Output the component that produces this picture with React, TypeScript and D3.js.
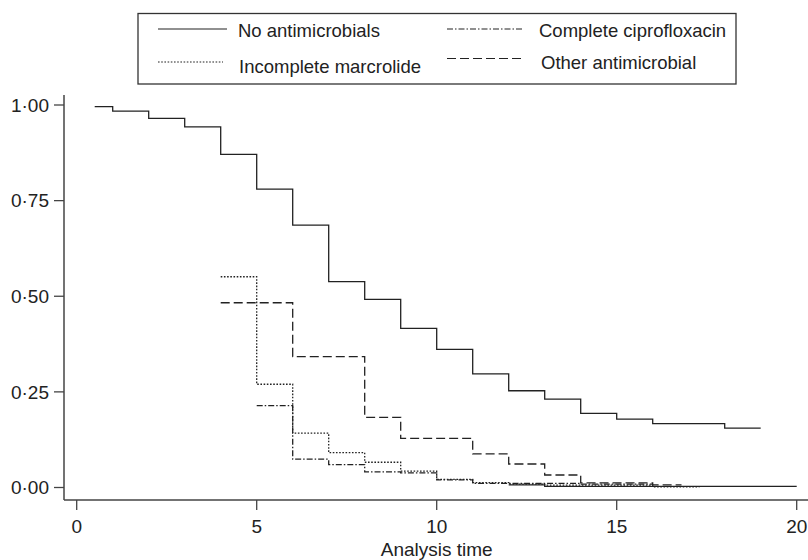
import React from 'react';
import * as d3 from 'd3';

// survival steps (time, surviving fraction)
const noAbxTime = [0.5, 1, 2, 3, 4, 5, 6, 7, 8, 9, 10, 11, 12, 13, 14, 15, 16, 18];
const noAbxSurv = [0.996, 0.984, 0.965, 0.943, 0.871, 0.78, 0.686, 0.538, 0.492, 0.416, 0.361, 0.297, 0.253, 0.231, 0.194, 0.179, 0.167, 0.155];
const noAbxEnd = 19;

const macroTime = [4, 5, 6, 7, 8, 9, 10, 11, 12, 13, 16];
const macroSurv = [0.551, 0.27, 0.142, 0.091, 0.066, 0.043, 0.021, 0.013, 0.009, 0.006, 0.002];
const macroEnd = 17.3;

const ciproTime = [5, 6, 7, 8, 9, 10, 11, 14];
const ciproSurv = [0.214, 0.074, 0.06, 0.041, 0.038, 0.02, 0.011, 0.009];
const ciproEnd = 16;

const otherTime = [4, 6, 8, 9, 11, 12, 13, 14, 16];
const otherSurv = [0.483, 0.342, 0.1835, 0.1286, 0.088, 0.0614, 0.0327, 0.012, 0.007];
const otherEnd = 16.8;

// unlabelled solid curve lying along zero
const tailTime = [12, 13];
const tailSurv = [0.007, 0.003];
const tailEnd = 20;

const xTicks = [0, 5, 10, 15, 20];
const yTicks = [0, 0.25, 0.5, 0.75, 1];
const yTickLabels = ['0·00', '0·25', '0·50', '0·75', '1·00'];

const FONT = '"Liberation Sans", Arial, Helvetica, sans-serif';
const INK = '#222';

const x = d3.scaleLinear().domain([0, 20]).range([76.7, 796.7]);
const y = d3.scaleLinear().domain([0, 1]).range([487.5, 105]);

const stepLine = d3.line<[number, number]>()
  .x(d => x(d[0]))
  .y(d => y(d[1]))
  .curve(d3.curveStepAfter);

function pts(times: number[], surv: number[], end: number): [number, number][] {
  const p: [number, number][] = times.map((t, i) => [t, surv[i]]);
  p.push([end, surv[surv.length - 1]]);
  return p;
}

const series = [
  { name: 'No antimicrobials', d: pts(noAbxTime, noAbxSurv, noAbxEnd), dash: null },
  { name: 'Incomplete marcrolide', d: pts(macroTime, macroSurv, macroEnd), dash: '1.6,1.6' },
  { name: 'Complete ciprofloxacin', d: pts(ciproTime, ciproSurv, ciproEnd), dash: '6,2,1.5,2' },
  { name: 'Other antimicrobial', d: pts(otherTime, otherSurv, otherEnd), dash: '9,4' },
  { name: '', d: pts(tailTime, tailSurv, tailEnd), dash: null },
];

const legendItems = [
  { label: 'No antimicrobials', dash: null, x1: 158, x2: 227, ly: 29, tx: 238, ty: 36.5 },
  { label: 'Complete ciprofloxacin', dash: '6,2,1.5,2', x1: 447, x2: 524, ly: 29, tx: 539, ty: 36.5 },
  { label: 'Incomplete marcrolide', dash: '1.6,1.6', x1: 158, x2: 223, ly: 62, tx: 239, ty: 72.5 },
  { label: 'Other antimicrobial', dash: '9,4', x1: 447, x2: 522, ly: 58.5, tx: 541, ty: 68.5 },
];

export default function App() {
  return (
    <svg width={808} height={560} style={{ position: 'absolute', left: 0, top: 0, background: '#fff' }}
      fontFamily={FONT}>
      {/* legend */}
      <rect x={138} y={13.5} width={598} height={70.5} fill="none" stroke="#333" strokeWidth={1.3} />
      {legendItems.map(l => (
        <g key={l.label}>
          <line x1={l.x1} x2={l.x2} y1={l.ly} y2={l.ly} stroke={INK} strokeWidth={1.2}
            strokeDasharray={l.dash || undefined} />
          <text x={l.tx} y={l.ty} fontSize={18.5} fill={INK}>{l.label}</text>
        </g>
      ))}

      {/* axes */}
      <line x1={64} x2={64} y1={95} y2={500} stroke="#444" strokeWidth={1.5} />
      <line x1={64} x2={808} y1={500} y2={500} stroke="#444" strokeWidth={1.5} />
      {yTicks.map((t, i) => (
        <g key={'y' + t}>
          <line x1={54} x2={64} y1={y(t)} y2={y(t)} stroke="#444" strokeWidth={1.3} />
          <text x={49} y={y(t)} dy="0.36em" textAnchor="end" fontSize={19} fill={INK}>{yTickLabels[i]}</text>
        </g>
      ))}
      {xTicks.map(t => (
        <g key={'x' + t}>
          <line x1={x(t)} x2={x(t)} y1={500} y2={510} stroke="#444" strokeWidth={1.3} />
          <text x={x(t)} y={533} textAnchor="middle" fontSize={19} fill={INK}>{t}</text>
        </g>
      ))}
      <text x={x(10)} y={556} textAnchor="middle" fontSize={19} fill={INK}>Analysis time</text>

      {/* curves */}
      {series.map((s, i) => (
        <path key={i} d={stepLine(s.d) || ''} fill="none" stroke={INK} strokeWidth={1.3}
          strokeDasharray={s.dash || undefined} />
      ))}
    </svg>
  );
}
